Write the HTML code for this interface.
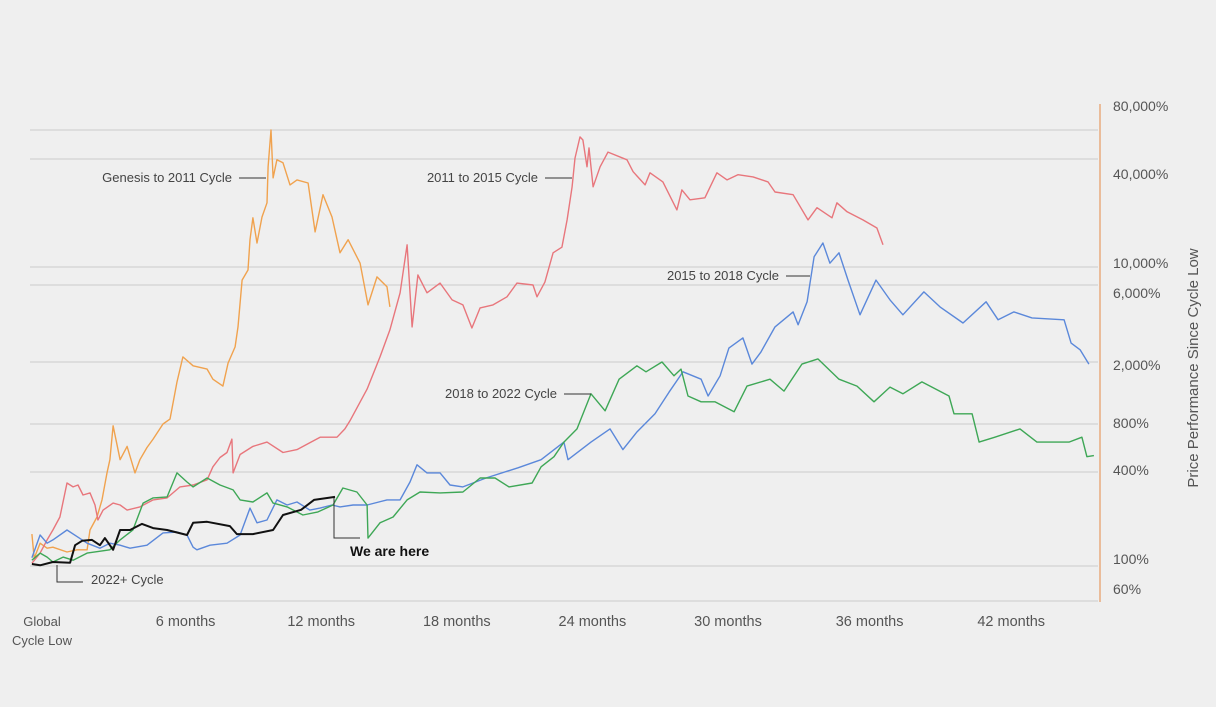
<!DOCTYPE html>
<html><head><meta charset="utf-8">
<style>
html,body{margin:0;padding:0;background:#efefef;}
body{width:1216px;height:702px;overflow:hidden;font-family:"Liberation Sans",sans-serif;}
svg text{font-family:"Liberation Sans",sans-serif;}
</style></head>
<body>
<svg id="chart" width="1216" height="702" viewBox="0 0 1216 702" xmlns="http://www.w3.org/2000/svg">
<rect x="0" y="0" width="1216" height="702" fill="#efefef"/>
<g id="grid"></g>
<g id="series"></g>
<g id="axes"></g>
<g font-size="13" fill="#444">
  <text x="232" y="182" text-anchor="end">Genesis to 2011 Cycle</text>
  <line x1="239" y1="178" x2="266" y2="178" stroke="#333" stroke-width="1"/>
  <text x="538" y="182" text-anchor="end">2011 to 2015 Cycle</text>
  <line x1="545" y1="178" x2="572" y2="178" stroke="#333" stroke-width="1"/>
  <text x="779" y="280" text-anchor="end">2015 to 2018 Cycle</text>
  <line x1="786" y1="276" x2="810" y2="276" stroke="#333" stroke-width="1"/>
  <text x="557" y="398" text-anchor="end">2018 to 2022 Cycle</text>
  <line x1="564" y1="394" x2="591" y2="394" stroke="#333" stroke-width="1"/>
  <polyline points="334,498 334,538 360,538" fill="none" stroke="#333" stroke-width="1"/>
  <text x="350" y="556" font-weight="bold" font-size="14" fill="#111">We are here</text>
  <polyline points="57,565 57,582 83,582" fill="none" stroke="#333" stroke-width="1"/>
  <text x="91" y="584">2022+ Cycle</text>
</g>
</svg>
<script>
// ---- data ----
const yTickValues = [60, 100, 400, 800, 2000, 6000, 10000, 40000, 80000];
const yTickLabels = ["60%", "100%", "400%", "800%", "2,000%", "6,000%", "10,000%", "40,000%", "80,000%"];
const xTickMonths = [0, 6, 12, 18, 24, 30, 36, 42];
const xTickLabels = ["Global|Cycle Low", "6 months", "12 months", "18 months", "24 months", "30 months", "36 months", "42 months"];

const genesisMonths = [-0.8,-0.7,-0.44,-0.13,0.13,0.75,1.19,1.64,1.77,2.08,2.30,2.52,2.65,2.79,3.10,3.41,3.76,3.98,4.29,4.56,5.0,5.31,5.62,5.88,6.33,6.95,7.21,7.65,7.88,8.19,8.32,8.50,8.76,8.85,8.98,9.16,9.38,9.60,9.65,9.78,9.87,10.04,10.31,10.62,10.93,11.42,11.73,12.08,12.48,12.83,13.19,13.72,14.07,14.47,14.91,15.04];
const genesisValues = [160,112,140,130,132,123,127,127,170,206,265,395,478,780,478,579,395,478,570,643,800,860,1490,2150,1890,1800,1550,1400,1970,2480,3300,6900,9180,14200,18800,13600,19000,22800,36200,80000,31400,39600,38100,28700,30600,29400,15700,25300,19000,12000,14200,10500,4520,7540,5850,4390];

const c2011Months = [-0.8,-0.44,-0.13,0.13,0.44,0.75,1.02,1.24,1.46,1.77,1.99,2.12,2.35,2.79,3.10,3.41,3.98,4.56,5.18,5.75,6.33,6.95,7.21,7.52,7.83,8.05,8.10,8.41,8.98,9.60,10.31,10.93,11.37,11.95,12.70,13.05,13.27,14.03,14.60,15.04,15.49,15.80,16.02,16.28,16.68,17.26,17.79,18.27,18.67,19.03,19.60,20.22,20.66,21.37,21.55,21.90,22.26,22.65,22.88,23.10,23.23,23.45,23.58,23.76,23.85,24.03,24.34,24.69,25.53,25.80,26.33,26.55,27.12,27.74,27.96,28.32,28.98,29.51,29.96,30.44,31.11,31.77,32.08,32.88,33.54,33.94,34.60,34.82,35.27,35.97,36.59,36.86];
const c2011Values = [104,121,147,170,206,340,321,330,285,294,246,197,228,253,246,228,239,265,273,321,330,356,431,493,530,643,395,515,579,616,530,553,597,661,661,745,837,1340,2150,3160,5370,13300,3300,7980,5370,6340,4850,4520,3250,4330,4520,5070,6340,6000,5070,6520,12000,12900,18300,28000,40900,67800,63000,36200,52000,28000,36200,47200,39600,34000,28700,33500,29800,20800,26900,23700,24300,33500,30600,32700,31800,29800,26200,25300,18300,21400,18800,22800,20300,18300,16500,13300];

const c2015Months = [-0.8,-0.44,-0.13,0.13,0.75,1.24,1.64,2.21,2.65,3.10,3.54,4.29,5.0,5.62,6.06,6.33,6.50,7.08,7.83,8.41,8.85,9.16,9.60,10.04,10.49,10.93,11.50,11.95,12.48,12.83,13.41,14.03,14.91,15.49,15.93,16.24,16.68,17.26,17.70,18.27,19.29,20.71,21.73,22.74,22.92,23.94,24.78,25.35,25.97,26.77,27.39,28.01,28.81,29.12,29.65,30.04,30.66,31.06,31.46,32.08,32.88,33.10,33.50,33.81,34.20,34.51,34.91,35.31,35.84,36.55,37.17,37.74,38.67,39.38,40.40,41.42,41.95,42.65,43.45,44.87,45.18,45.58,45.97];
const c2015Values = [113,158,140,147,170,153,140,130,140,136,130,136,163,165,158,132,127,136,140,158,235,189,197,265,246,257,228,235,246,239,246,246,265,265,345,444,395,395,330,321,366,425,478,616,478,616,745,553,713,930,1280,1730,1550,1210,1630,2440,2820,1940,2310,3300,4090,3400,4720,11400,13600,10500,12000,6900,3920,6900,4850,3920,5440,4390,3490,4720,3650,4090,3750,3650,2620,2380,1940];

const c2018Months = [-0.8,-0.44,-0.13,0.13,0.58,1.02,1.64,2.65,3.10,3.67,4.12,4.56,5.18,5.62,6.06,6.33,6.95,7.52,8.10,8.41,8.98,9.60,9.87,10.49,11.19,11.86,12.52,12.96,13.58,14.03,14.07,14.60,15.18,15.80,16.37,17.26,18.27,19.03,19.69,20.31,21.33,21.73,22.30,22.74,23.32,23.94,24.56,25.18,25.97,26.37,27.08,27.61,27.92,28.23,28.81,29.42,30.27,30.84,31.86,32.48,33.27,33.98,34.91,35.71,36.46,37.17,37.74,38.58,39.78,40.0,40.80,41.11,41.81,42.92,43.67,45.09,45.66,45.88,46.19];
const c2018Values = [109,121,114,106,114,109,121,127,147,170,253,273,277,395,345,321,366,330,307,265,257,294,253,239,212,222,246,316,298,246,151,189,206,265,298,294,298,366,366,321,340,431,499,616,745,1250,973,1550,1890,1730,2000,1630,1800,1210,1110,1110,958,1400,1550,1300,1940,2090,1550,1400,1110,1380,1250,1490,1210,930,930,616,661,745,616,616,661,499,507];

const c2022Months = [-0.8,-0.44,0.13,0.89,1.11,1.42,1.86,2.21,2.43,2.79,3.10,3.54,4.07,4.56,5.18,6.06,6.33,6.95,7.96,8.27,8.98,9.87,10.31,11.11,11.68,12.30,12.61];
const c2022Values = [103,101,106,105,136,145,147,136,151,127,170,170,186,175,170,158,189,192,180,160,160,170,212,229,265,273,277];

// ---- scales ----
const X0 = 50, PX_PER_MONTH = 22.6;
function xScale(m){ return X0 + PX_PER_MONTH * m; }
const anchorPx = [601, 566, 472, 424, 362, 285, 267, 159, 130];
function yScale(v){
  const lv = Math.log10(v);
  const lt = yTickValues.map(t => Math.log10(t));
  let i = 0;
  if (lv <= lt[0]) i = 0;
  else if (lv >= lt[lt.length-1]) i = lt.length-2;
  else { while (i < lt.length-2 && lv > lt[i+1]) i++; }
  const f = (lv - lt[i]) / (lt[i+1] - lt[i]);
  return anchorPx[i] + f * (anchorPx[i+1] - anchorPx[i]);
}

const NS = "http://www.w3.org/2000/svg";
const grid = document.getElementById("grid");
const axes = document.getElementById("axes");
const seriesG = document.getElementById("series");

// gridlines & y labels
const labelOffsets = [-12, -7, -2, -1, 3, 8, -4, 15, -24];
yTickValues.forEach((v, i) => {
  const y = yScale(v);
  const ln = document.createElementNS(NS, "line");
  ln.setAttribute("x1", 30); ln.setAttribute("x2", 1098);
  ln.setAttribute("y1", y); ln.setAttribute("y2", y);
  ln.setAttribute("stroke", "#cbcbcb"); ln.setAttribute("stroke-width", "1");
  
  
  grid.appendChild(ln);
  const t = document.createElementNS(NS, "text");
  t.setAttribute("x", 1113); t.setAttribute("y", y + labelOffsets[i] + 5);
  t.setAttribute("font-size", "14"); t.setAttribute("fill", "#555");
  t.textContent = yTickLabels[i];
  
  
  axes.appendChild(t);
});

// right axis line
const ax = document.createElementNS(NS, "line");
ax.setAttribute("x1", 1100); ax.setAttribute("x2", 1100);
ax.setAttribute("y1", 104); ax.setAttribute("y2", 602);
ax.setAttribute("stroke", "#e9ab7e"); ax.setAttribute("stroke-width", "1.5");


axes.appendChild(ax);

// y axis title
const yt = document.createElementNS(NS, "text");
yt.setAttribute("transform", "translate(1198,368) rotate(-90)");
yt.setAttribute("text-anchor", "middle"); yt.setAttribute("font-size", "15"); yt.setAttribute("fill", "#555");
yt.textContent = "Price Performance Since Cycle Low";


axes.appendChild(yt);

// x tick labels
xTickMonths.forEach((m, i) => {
  const parts = xTickLabels[i].split("|");
  parts.forEach((p, j) => {
    const t = document.createElementNS(NS, "text");
    const cx = i === 0 ? 42 : xScale(m) + (i >= 6 ? (i - 5) * 6 : 0);
    t.setAttribute("x", cx); t.setAttribute("y", 626 + j * 19);
    t.setAttribute("text-anchor", "middle");
    t.setAttribute("font-size", i === 0 ? "13" : "14.5"); t.setAttribute("fill", "#555");
    t.textContent = p;
    
    
    axes.appendChild(t);
  });
});

// series
function drawSeries(months, values, color, width, name){
  const pts = months.map((m, i) => xScale(m).toFixed(1) + "," + yScale(values[i]).toFixed(1)).join(" ");
  const pl = document.createElementNS(NS, "polyline");
  pl.setAttribute("points", pts);
  pl.setAttribute("fill", "none"); pl.setAttribute("stroke", color);
  pl.setAttribute("stroke-width", width); pl.setAttribute("stroke-linejoin", "round");
  
  
  seriesG.appendChild(pl);
}
drawSeries(genesisMonths, genesisValues, "#f0a24e", 1.4, "genesis-2011-line");
drawSeries(c2011Months, c2011Values, "#e8767c", 1.4, "cycle-2011-2015-line");
drawSeries(c2015Months, c2015Values, "#5b88da", 1.4, "cycle-2015-2018-line");
drawSeries(c2018Months, c2018Values, "#3ea756", 1.4, "cycle-2018-2022-line");
drawSeries(c2022Months, c2022Values, "#111111", 2, "cycle-2022-line");
</script>
</body></html>
